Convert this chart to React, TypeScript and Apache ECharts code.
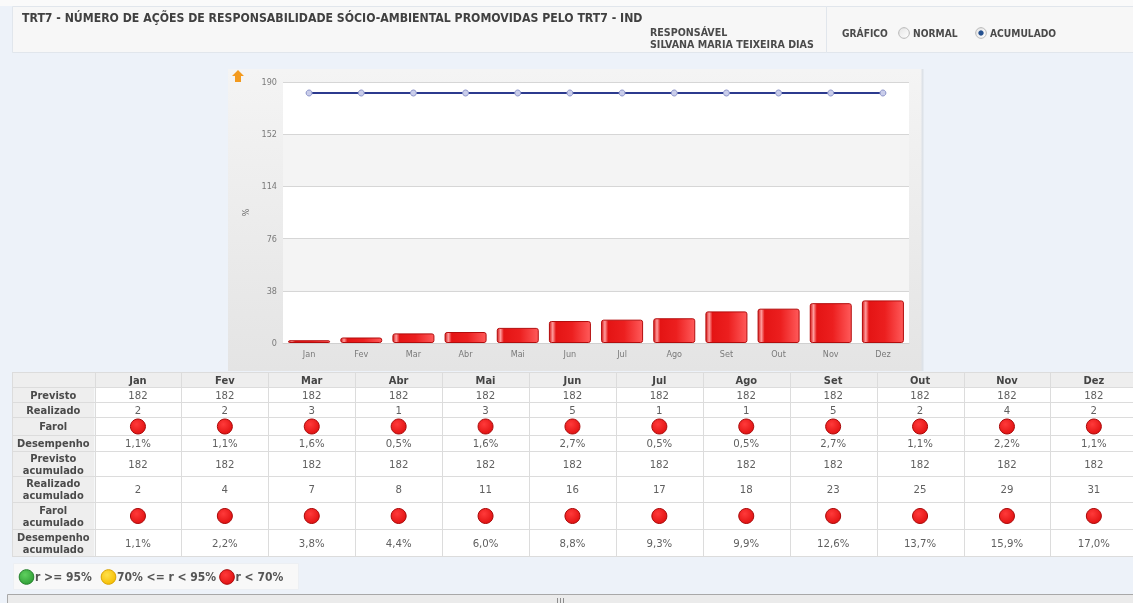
import React, { useEffect, useRef } from "react";
import * as echarts from "echarts";

const titleText = "TRT7 - NÚMERO DE AÇÕES DE RESPONSABILIDADE SÓCIO-AMBIENTAL PROMOVIDAS PELO TRT7 - IND";
const responsavelLabel = "RESPONSÁVEL";
const responsavelName = "SILVANA MARIA TEIXEIRA DIAS";
const graficoLabel = "GRÁFICO";
const radioOptions = ["NORMAL", "ACUMULADO"];
const radioSelected = 1;

const months = ["Jan", "Fev", "Mar", "Abr", "Mai", "Jun", "Jul", "Ago", "Set", "Out", "Nov", "Dez"];
const previsto = [182, 182, 182, 182, 182, 182, 182, 182, 182, 182, 182, 182];
const realizado = [2, 2, 3, 1, 3, 5, 1, 1, 5, 2, 4, 2];
const farol = ["red", "red", "red", "red", "red", "red", "red", "red", "red", "red", "red", "red"];
const desempenho = ["1,1%", "1,1%", "1,6%", "0,5%", "1,6%", "2,7%", "0,5%", "0,5%", "2,7%", "1,1%", "2,2%", "1,1%"];
const previstoAcum = [182, 182, 182, 182, 182, 182, 182, 182, 182, 182, 182, 182];
const realizadoAcum = [2, 4, 7, 8, 11, 16, 17, 18, 23, 25, 29, 31];
const farolAcum = ["red", "red", "red", "red", "red", "red", "red", "red", "red", "red", "red", "red"];
const desempenhoAcum = ["1,1%", "2,2%", "3,8%", "4,4%", "6,0%", "8,8%", "9,3%", "9,9%", "12,6%", "13,7%", "15,9%", "17,0%"];

const yMin = 0;
const yMax = 190;
const yInterval = 38;
const yAxisName = "%";

const legendLabels = ["r >= 95%", "70% <= r < 95%", "r < 70%"];
const legendStatus = ["green", "yellow", "red"];

const F = "'DejaVu Sans Condensed', 'DejaVu Sans', sans-serif";

const lampColors: Record<string, [string, string, string]> = {
  green: ["#5fd05f", "#2f9e35", "#23802a"],
  yellow: ["#ffe04a", "#f5bd00", "#d9a300"],
  red: ["#ff3a3a", "#e01010", "#a80808"],
};

function txt(text: string, x: number, y: number, font: string, fill: string, align = "center", vAlign = "middle", extra: any = {}) {
  return {
    type: "text",
    x,
    y,
    silent: true,
    z: 5,
    style: {
      text,
      font,
      fill,
      align,
      verticalAlign: vAlign,
      textAlign: align,
      textVerticalAlign: vAlign,
      ...extra,
    },
  };
}

function lamp(status: string, cx: number, cy: number, r: number) {
  const c = lampColors[status];
  return {
    type: "circle",
    z: 5,
    silent: true,
    shape: { cx, cy, r },
    style: {
      fill: new echarts.graphic.RadialGradient(0.4, 0.35, 0.7, [
        { offset: 0, color: c[0] },
        { offset: 1, color: c[1] },
      ]),
      stroke: c[2],
      lineWidth: 1,
    },
  };
}

function buildGraphic() {
  const g: any[] = [];
  g.push({ type: "rect", z: -10, silent: true, shape: { x: 0, y: 0, width: 1133, height: 603 }, style: { fill: "#edf2f9" } });
  g.push({ type: "rect", z: -10, silent: true, shape: { x: 0, y: 0, width: 1133, height: 6 }, style: { fill: "#fafafa" } });
  g.push({ type: "rect", z: -9, silent: true, shape: { x: 12.5, y: 6.5, width: 814, height: 46 }, style: { fill: "#f7f7f7", stroke: "#e1e6ec", lineWidth: 1 } });
  g.push({ type: "rect", z: -9, silent: true, shape: { x: 826.5, y: 6.5, width: 310, height: 46 }, style: { fill: "#f7f7f7", stroke: "#e1e6ec", lineWidth: 1 } });
  g.push(txt(titleText, 22, 18, `bold 12.2px ${F}`, "#404040", "left"));
  g.push(txt(responsavelLabel, 650, 32, `bold 10.6px ${F}`, "#4a4a4a", "left"));
  g.push(txt(responsavelName, 650, 44, `bold 10.6px ${F}`, "#4a4a4a", "left"));
  g.push(txt(graficoLabel, 842, 33, `bold 10.2px ${F}`, "#4a4a4a", "left"));
  const radioX = [904, 981];
  radioOptions.forEach((label, i) => {
    g.push({
      type: "circle", z: 5, silent: true,
      shape: { cx: radioX[i], cy: 33, r: 5.3 },
      style: {
        fill: new echarts.graphic.LinearGradient(0, 0, 1, 1, [
          { offset: 0, color: "#e4e4e4" },
          { offset: 1, color: "#ffffff" },
        ]),
        stroke: "#b5b5b5", lineWidth: 1,
      },
    });
    if (i === radioSelected) {
      g.push({ type: "circle", z: 6, silent: true, shape: { cx: radioX[i], cy: 33, r: 2.7 }, style: { fill: "#24508f" } });
    }
    g.push(txt(label, radioX[i] + 9, 33, `bold 10.2px ${F}`, "#4a4a4a", "left"));
  });

  g.push({
    type: "rect", z: -9, silent: true,
    shape: { x: 228, y: 69, width: 694, height: 302 },
    style: {
      fill: new echarts.graphic.LinearGradient(0, 0, 0, 1, [
        { offset: 0, color: "#f4f4f4" },
        { offset: 1, color: "#e4e4e4" },
      ]),
    },
  });
  g.push({ type: "line", z: -8, silent: true, shape: { x1: 922.5, y1: 69, x2: 922.5, y2: 371 }, style: { stroke: "#dde2e8", lineWidth: 2 } });
  g.push({
    type: "polygon", z: 5, silent: true,
    shape: { points: [[238, 70], [244, 76], [241, 76], [241, 82], [235, 82], [235, 76], [232, 76]] },
    style: { fill: "#f39a1e" },
  });

  const rowY = [372, 387, 402, 417, 435, 451, 476, 502, 529, 556];
  const labelX0 = 12;
  const colX0 = 94.5;
  const colW = 86.9;
  const tableRight = colX0 + colW * months.length;
  const rows: { label: string; kind: "num" | "lamp"; values: any[] }[] = [
    { label: "Previsto", kind: "num", values: previsto },
    { label: "Realizado", kind: "num", values: realizado },
    { label: "Farol", kind: "lamp", values: farol },
    { label: "Desempenho", kind: "num", values: desempenho },
    { label: "Previsto\nacumulado", kind: "num", values: previstoAcum },
    { label: "Realizado\nacumulado", kind: "num", values: realizadoAcum },
    { label: "Farol\nacumulado", kind: "lamp", values: farolAcum },
    { label: "Desempenho\nacumulado", kind: "num", values: desempenhoAcum },
  ];
  g.push({ type: "rect", z: 1, silent: true, shape: { x: labelX0, y: rowY[0], width: tableRight - labelX0, height: rowY[1] - rowY[0] }, style: { fill: "#eeeeee" } });
  g.push({ type: "rect", z: 1, silent: true, shape: { x: labelX0, y: rowY[1], width: colX0 - labelX0, height: rowY[rowY.length - 1] - rowY[1] }, style: { fill: "#eeeeee" } });
  g.push({ type: "rect", z: 1, silent: true, shape: { x: colX0, y: rowY[1], width: tableRight - colX0, height: rowY[rowY.length - 1] - rowY[1] }, style: { fill: "#ffffff" } });
  rowY.forEach((y) => {
    g.push({ type: "line", z: 2, silent: true, shape: { x1: labelX0, y1: y + 0.5, x2: tableRight, y2: y + 0.5 }, style: { stroke: "#dcdcdc", lineWidth: 1 } });
  });
  const vx = [labelX0];
  for (let i = 0; i <= months.length; i++) vx.push(colX0 + colW * i);
  vx.forEach((x) => {
    const xx = Math.round(x) + 0.5;
    g.push({ type: "line", z: 2, silent: true, shape: { x1: xx, y1: rowY[0], x2: xx, y2: rowY[rowY.length - 1] }, style: { stroke: "#dcdcdc", lineWidth: 1 } });
  });
  months.forEach((m, i) => {
    g.push(txt(m, colX0 + colW * (i + 0.5), (rowY[0] + rowY[1]) / 2 + 0.5, `bold 11px ${F}`, "#444444"));
  });
  rows.forEach((row, r) => {
    const cy = (rowY[r + 1] + rowY[r + 2]) / 2 + 0.5;
    g.push(txt(row.label, (labelX0 + colX0) / 2, cy, `bold 11px ${F}`, "#4a4a4a", "center", "middle", { lineHeight: 12 }));
    row.values.forEach((v, i) => {
      const cx = colX0 + colW * (i + 0.5);
      if (row.kind === "lamp") g.push(lamp(v, cx, cy, 7.5));
      else g.push(txt(String(v), cx, cy, `11.3px ${F}`, "#606060"));
    });
  });

  g.push({ type: "rect", z: 1, silent: true, shape: { x: 13.5, y: 563.5, width: 285, height: 26 }, style: { fill: "#f8f8f8", stroke: "#eceff3", lineWidth: 1 } });
  const legCx = [26.5, 108.5, 227];
  legendLabels.forEach((label, i) => {
    g.push(lamp(legendStatus[i], legCx[i], 577, 7.3));
    g.push(txt(label, legCx[i] + 8.5, 577, `bold 12px ${F}`, "#555555", "left"));
  });

  g.push({ type: "rect", z: 1, silent: true, shape: { x: 7.5, y: 594.5, width: 1130, height: 12 }, style: { fill: "#ebebeb", stroke: "#a8a8a8", lineWidth: 1 } });
  [557, 560, 563].forEach((x) => {
    g.push({ type: "line", z: 2, silent: true, shape: { x1: x + 0.5, y1: 598, x2: x + 0.5, y2: 603 }, style: { stroke: "#8c8c8c", lineWidth: 1 } });
  });
  return g;
}

export default function App() {
  const ref = useRef<HTMLDivElement>(null);
  useEffect(() => {
    if (!ref.current) return;
    const chart = echarts.init(ref.current, undefined, { renderer: "svg" });
    const barColor = new echarts.graphic.LinearGradient(0, 0, 1, 0, [
      { offset: 0, color: "#d81818" },
      { offset: 0.08, color: "#ff9c9c" },
      { offset: 0.16, color: "#e41414" },
      { offset: 0.55, color: "#ec1f1f" },
      { offset: 1, color: "#ff5a5a" },
    ]);
    chart.setOption({
      animation: false,
      graphic: { elements: buildGraphic() },
      grid: { left: 283, top: 82, width: 626, height: 261, containLabel: false },
      xAxis: {
        type: "category",
        data: months,
        axisLine: { show: true, lineStyle: { color: "#d0d0d0" } },
        axisTick: { show: false },
        axisLabel: { color: "#7a7a7a", fontSize: 9, fontFamily: F, margin: 6 },
        splitLine: { show: false },
      },
      yAxis: {
        type: "value",
        min: yMin,
        max: yMax,
        interval: yInterval,
        name: yAxisName,
        nameLocation: "middle",
        nameGap: 31,
        nameRotate: 90,
        nameTextStyle: { color: "#666666", fontSize: 9, fontFamily: F },
        axisLine: { show: false },
        axisTick: { show: false },
        axisLabel: { color: "#7a7a7a", fontSize: 9, fontFamily: F, margin: 6 },
        splitLine: { show: true, lineStyle: { color: "#d6d6d6", width: 1 } },
        splitArea: { show: true, areaStyle: { color: ["#ffffff", "#f4f4f4"] } },
      },
      series: [
        {
          type: "bar",
          data: realizadoAcum,
          barWidth: 42,
          z: 3,
          itemStyle: { color: barColor, borderColor: "#b30c0c", borderWidth: 1, borderRadius: 2 },
        },
        {
          type: "line",
          data: previstoAcum,
          z: 4,
          symbol: "circle",
          symbolSize: 6,
          lineStyle: { color: "#2c3a8e", width: 2 },
          itemStyle: { color: "#c9cdea", borderColor: "#8a92c9", borderWidth: 1 },
        },
      ],
    });
    return () => chart.dispose();
  }, []);
  return <div ref={ref} style={{ position: "fixed", left: 0, top: 0, width: 1133, height: 603 }} />;
}
